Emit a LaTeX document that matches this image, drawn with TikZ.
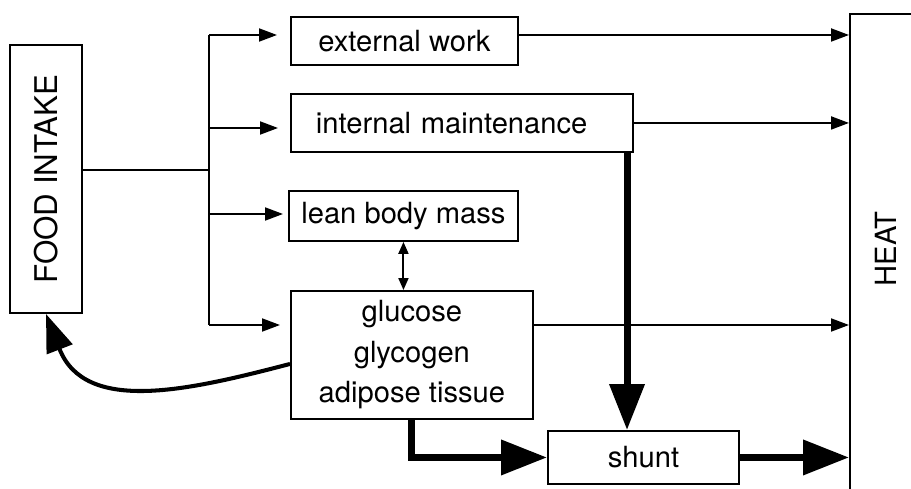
\documentclass[tikz,border=0pt]{standalone}
\usepackage{fontspec}
\setmainfont{TeX Gyre Heros}
\usetikzlibrary{arrows.meta}
\tikzset{
  box/.style={draw, line width=1.1pt, inner sep=0pt, align=center,
    font=\fontsize{16.6}{23}\selectfont},
  conn/.style={line width=1.1pt},
  thinarr/.style={conn, -{Triangle[length=0.36cm,width=0.26cm]}},
  fatarr/.style={line width=4pt, -{Triangle[length=0.92cm,width=0.68cm]}},
  curvarr/.style={line width=2.3pt, -{Triangle[length=0.76cm,width=0.54cm]}},
}
\begin{document}
\begin{tikzpicture}[x=0.02cm, y=-0.02cm]
    \useasboundingbox (0,0) rectangle (911,489);
    % boxes
    \node[box, minimum width=1.44cm, minimum height=5.36cm, font=\fontsize{17.8}{23}\selectfont] (food) at (46,179) {\rotatebox{90}{FOOD INTAKE}};
    \node[box, anchor=north west, minimum width=4.54cm, minimum height=0.96cm] (extwork) at (290,16) {external work};
    \node[box, anchor=north west, text width=5.84cm, inner xsep=0.5cm, align=left, minimum height=1.16cm] (intmaint) at (290,93) {internal maintenance};
    \node[box, anchor=north west, minimum width=4.58cm, minimum height=1cm] (lean) at (288,190) {lean body mass};
    \node[box, anchor=north west, minimum width=4.84cm, minimum height=2.56cm] (stores) at (290,290) {glucose\\glycogen\\adipose tissue};
    \node[box, anchor=north west, minimum width=3.82cm, minimum height=1.06cm] (shunt) at (547,430) {shunt};
    \node[box, anchor=north west, minimum width=2cm, minimum height=11cm] (heat) at (849,13) {};
    \node[rotate=90, font=\fontsize{16.6}{23}\selectfont] (heatlbl) at (886,249) {HEAT};
    % branching of the intake
    \coordinate (b0) at (209,170);
    \coordinate (b1) at (209,35);
    \coordinate (b2) at (209,128);
    \coordinate (b3) at (209,214);
    \coordinate (b4) at (209,325);
    \draw[conn] (food.east |- b0) -- (b0);
    \draw[conn] (b1) -- (b4);
    \draw[thinarr, shorten >=0.26cm] (b1) -- (b1 -| extwork.west);
    \draw[thinarr, shorten >=0.24cm] (b2) -- (b2 -| intmaint.west);
    \draw[thinarr, shorten >=0.1cm] (b3) -- (b3 -| lean.west);
    \draw[thinarr, shorten >=0.2cm] (b4) -- (b4 -| stores.west);
    \draw[conn, {Triangle[length=0.24cm,width=0.2cm]}-{Triangle[length=0.24cm,width=0.2cm]}] (lean.south) -- (lean.south |- stores.north);
    % out to heat
    \draw[thinarr] (b1 -| extwork.east) -- (b1 -| heat.west);
    \draw[thinarr] (intmaint.east) -- (intmaint.east -| heat.west);
    \draw[thinarr] (b4 -| stores.east) -- (b4 -| heat.west);
    % shunt
    \coordinate (drop) at (627,0);
    \draw[fatarr] (drop |- intmaint.south) -- (drop |- shunt.north);
    \draw[fatarr] (stores.south) |- (shunt.west);
    \draw[fatarr] (shunt.east) -- (shunt.east -| heat.west);
    % feedback to intake
    \draw[curvarr] ([yshift=-0.18cm]stores.west) .. controls (190,390) and (85,415) .. (food.south);
\end{tikzpicture}
\end{document}
